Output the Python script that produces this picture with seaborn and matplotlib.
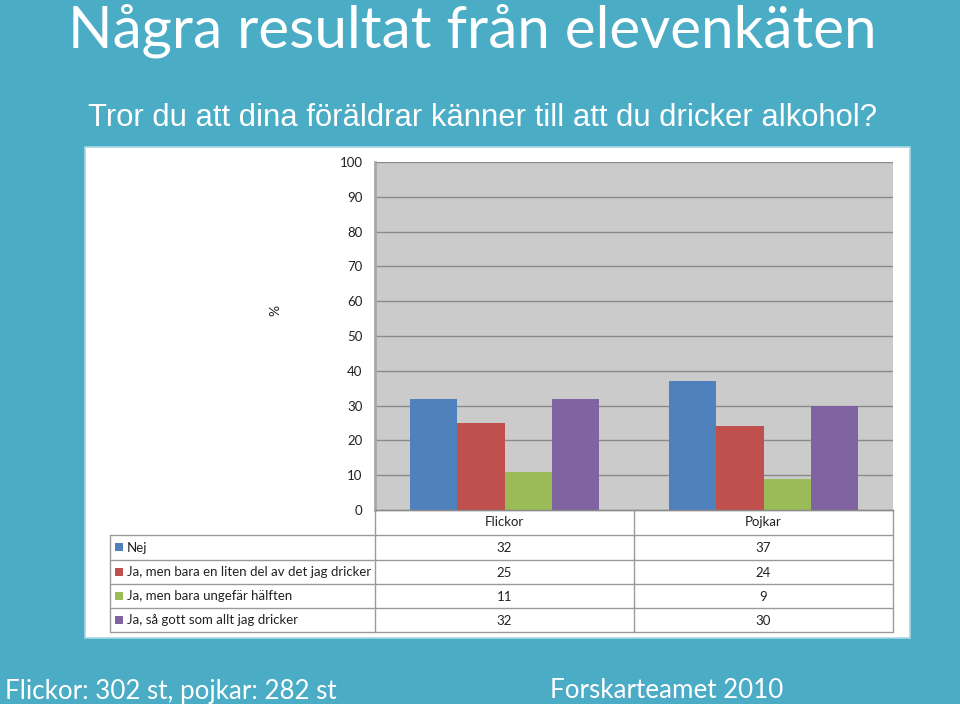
import matplotlib
matplotlib.use('Agg')
import matplotlib.pyplot as plt
import seaborn as sns
import pandas as pd
from matplotlib.patches import Rectangle

# ---------------- data ----------------
groups = ['Flickor', 'Pojkar']
series = ['Nej',
          'Ja, men bara en liten del av det jag dricker',
          'Ja, men bara ungefär hälften',
          'Ja, så gott som allt jag dricker']
flickor = [32, 25, 11, 32]
pojkar = [37, 24, 9, 30]
colors = ['#4F81BD', '#C0504D', '#9BBB59', '#8064A2']
yticks = [0, 10, 20, 30, 40, 50, 60, 70, 80, 90, 100]

title = 'Några resultat från elevenkäten'
subtitle = 'Tror du att dina föräldrar känner till att du dricker alkohol?'
footer_left = 'Flickor: 302 st, pojkar: 282 st'
footer_right = 'Forskarteamet 2010'

rows = []
for s, f, p in zip(series, flickor, pojkar):
    rows.append({'grupp': groups[0], 'serie': s, 'value': f})
    rows.append({'grupp': groups[1], 'serie': s, 'value': p})
df = pd.DataFrame(rows)

# ---------------- figure ----------------
sns.set_style('white')
plt.rcParams['font.family'] = ['Lato', 'DejaVu Sans']

W, H = 960, 704
BG = '#4BACC6'
fig = plt.figure(figsize=(W / 100, H / 100), dpi=100)
fig.patch.set_facecolor(BG)

ov = fig.add_axes([0, 0, 1, 1], zorder=0)
ov.set_xlim(0, W)
ov.set_ylim(H, 0)
ov.axis('off')

# white chart panel
ov.add_patch(Rectangle((85, 147), 825, 491, facecolor='white',
                       edgecolor='#A6D8E4', lw=1.2))

# titles
ov.text(472, 31, title, fontsize=42, color='white', ha='center', va='center',
        family=['Lato', 'DejaVu Sans'])
ov.text(88, 118, subtitle, fontsize=22.3, color='white', ha='left', va='center',
        family=['Liberation Sans', 'DejaVu Sans'])
ov.text(5, 691, footer_left, fontsize=18.7, color='white', ha='left', va='center')
ov.text(550, 691, footer_right, fontsize=18.7, color='white', ha='left', va='center')

# main axes
x0, x1, y0, y1 = 375, 893, 162, 510
ax = fig.add_axes([x0 / W, (H - y1) / H, (x1 - x0) / W, (y1 - y0) / H], zorder=1)
ax.set_facecolor('#CBCBCB')
sns.barplot(data=df, x='grupp', y='value', hue='serie', hue_order=series,
            order=groups, palette=colors, width=0.73, saturation=1,
            legend=False, ax=ax, edgecolor='none')
ax.set_xlim(-0.5, 1.5)
ax.set_ylim(0, 100)
ax.set_yticks(yticks)
ax.set_yticklabels([str(v) for v in yticks])
ax.yaxis.grid(True, color='#8A8A8A', lw=1)
ax.set_axisbelow(True)
ax.set_xlabel('')
ax.set_ylabel('')
ax.tick_params(axis='x', length=0, labelbottom=False)
ax.tick_params(axis='y', length=3, width=1, color='#8A8A8A', pad=6,
               labelsize=9.5, labelcolor='#222222')
for sp in ['top', 'right']:
    ax.spines[sp].set_visible(False)
ax.spines['left'].set_color('#A8A8A8')
ax.spines['left'].set_linewidth(2)
ax.spines['bottom'].set_color('#8A8A8A')
ax.spines['bottom'].set_linewidth(1)

ov.text(275, 310, '%', fontsize=10, rotation=90, ha='center', va='center',
        color='#222222')

# ---------------- data table ----------------
lc = '#9A9A9A'
xl, xm, xr = 110, 634, 893
row_y = [535, 560, 584, 608, 632]
ov.plot([x0, x0], [y1, row_y[-1]], color=lc, lw=1)
ov.plot([xm, xm], [y1, row_y[-1]], color=lc, lw=1)
ov.plot([xr, xr], [y1, row_y[-1]], color=lc, lw=1)
ov.plot([xl, xl], [row_y[0], row_y[-1]], color=lc, lw=1)
for yy in row_y:
    ov.plot([xl, xr], [yy, yy], color=lc, lw=1)
ov.plot([x0, xr], [y1, y1], color=lc, lw=1)

cx = [(x0 + xm) / 2, (xm + xr) / 2]
ov.text(cx[0], 522, groups[0], fontsize=9.5, ha='center', va='center', color='#222222')
ov.text(cx[1], 522, groups[1], fontsize=9.5, ha='center', va='center', color='#222222')
for i, s in enumerate(series):
    yc = (row_y[i] + row_y[i + 1]) / 2
    ov.add_patch(Rectangle((115, yc - 4.5), 8, 8, facecolor=colors[i], edgecolor='none'))
    ov.text(127, yc, s, fontsize=9.5, ha='left', va='center', color='#222222')
    ov.text(cx[0], yc + 1, str(flickor[i]), fontsize=9.5, ha='center', va='center', color='#222222')
    ov.text(cx[1], yc + 1, str(pojkar[i]), fontsize=9.5, ha='center', va='center', color='#222222')

fig.savefig('out.png', dpi=100, facecolor=BG)
